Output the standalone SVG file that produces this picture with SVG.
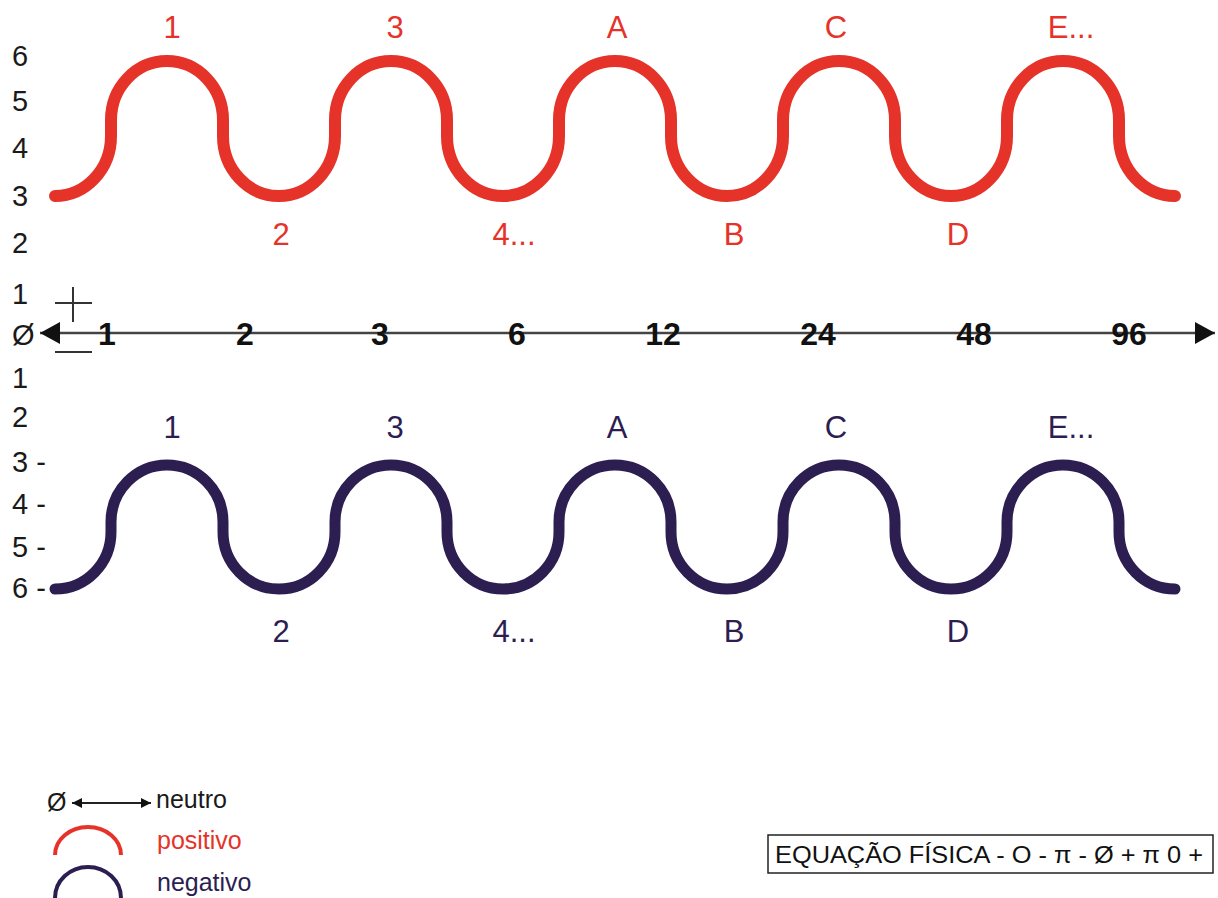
<svg xmlns="http://www.w3.org/2000/svg" width="1218" height="898" viewBox="0 0 1218 898">
<defs>
<style>
.bg{fill:#ffffff}
.num{font-family:"Liberation Sans",Arial,sans-serif;font-size:29px;fill:#1a1a1a}
.ax{font-family:"Liberation Sans",Arial,sans-serif;font-size:32px;font-weight:bold;fill:#111;text-anchor:middle}
.rl{font-family:"Liberation Sans",Arial,sans-serif;font-size:31px;fill:#e63329;text-anchor:middle}
.bl{font-family:"Liberation Sans",Arial,sans-serif;font-size:31px;fill:#2d1e52;text-anchor:middle}
.wr{fill:none;stroke:#e63329;stroke-width:12;stroke-linecap:round;stroke-linejoin:round}
.wb{fill:none;stroke:#2d1e52;stroke-width:11;stroke-linecap:round;stroke-linejoin:round}
.leg{font-family:"Liberation Sans",Arial,sans-serif;font-size:25px}
.thin{stroke:#333;stroke-width:2;fill:none}
</style>
<marker id="ah" viewBox="0 0 10 10" refX="10" refY="5" markerWidth="10" markerHeight="10" markerUnits="userSpaceOnUse" orient="auto-start-reverse">
<path d="M0 0 L10 5 L0 10 Z" fill="#111"/>
</marker>
<marker id="ahBig" viewBox="0 0 20 22" refX="20" refY="11" markerWidth="21" markerHeight="22" markerUnits="userSpaceOnUse" orient="auto-start-reverse">
<path d="M0 0 L20 11 L0 22 Z" fill="#111"/>
</marker>
</defs>
<rect class="bg" x="0" y="0" width="1218" height="898"/>

<g id="scale-left">
<text class="num" x="12" y="66">6</text>
<text class="num" x="12" y="111">5</text>
<text class="num" x="12" y="158">4</text>
<text class="num" x="12" y="206">3</text>
<text class="num" x="12" y="253">2</text>
<text class="num" x="12" y="304">1</text>
<text class="num" x="12" y="345">Ø</text>
<text class="num" x="12" y="388">1</text>
<text class="num" x="12" y="427">2</text>
<text class="num" x="12" y="472">3 -</text>
<text class="num" x="12" y="514">4 -</text>
<text class="num" x="12" y="557">5 -</text>
<text class="num" x="12" y="598">6 -</text>
</g>

<g id="connectors">
<line x1="40" y1="333" x2="1215" y2="333" stroke="#444" stroke-width="2.5" marker-start="url(#ahBig)" marker-end="url(#ahBig)"/>
</g>

<g id="signs">
<line class="thin" x1="55" y1="303" x2="92" y2="303"/>
<line class="thin" x1="73" y1="287" x2="73" y2="322"/>
<line class="thin" x1="55" y1="352" x2="92" y2="352"/>
</g>

<g id="axis-numbers">
<text class="ax" x="107" y="345">1</text>
<text class="ax" x="245" y="345">2</text>
<text class="ax" x="380" y="345">3</text>
<text class="ax" x="517" y="345">6</text>
<text class="ax" x="663" y="345">12</text>
<text class="ax" x="818" y="345">24</text>
<text class="ax" x="974" y="345">48</text>
<text class="ax" x="1129" y="345">96</text>
</g>

<g id="wave-positive">
<path class="wr" d="M55 196 A56 60 0 0 0 111 136 L111 120 A56 59 0 0 1 223 120 L223 136 A56 60 0 0 0 335 136 L335 120 A56 59 0 0 1 447 120 L447 136 A56 60 0 0 0 559 136 L559 120 A56 59 0 0 1 671 120 L671 136 A56 60 0 0 0 783 136 L783 120 A56 59 0 0 1 895 120 L895 136 A56 60 0 0 0 1007 136 L1007 120 A56 59 0 0 1 1119 120 L1119 136 A56 60 0 0 0 1175 196"/>
<text class="rl" x="172" y="38">1</text>
<text class="rl" x="395" y="38">3</text>
<text class="rl" x="617" y="38">A</text>
<text class="rl" x="836" y="38">C</text>
<text class="rl" x="1071" y="38">E...</text>
<text class="rl" x="281" y="245">2</text>
<text class="rl" x="514" y="245">4...</text>
<text class="rl" x="734" y="245">B</text>
<text class="rl" x="958" y="245">D</text>
</g>

<g id="wave-negative">
<path class="wb" d="M55 589 A56 57 0 0 0 111 532 L111 522 A56 57 0 0 1 223 522 L223 532 A56 57 0 0 0 335 532 L335 522 A56 57 0 0 1 447 522 L447 532 A56 57 0 0 0 559 532 L559 522 A56 57 0 0 1 671 522 L671 532 A56 57 0 0 0 783 532 L783 522 A56 57 0 0 1 895 522 L895 532 A56 57 0 0 0 1007 532 L1007 522 A56 57 0 0 1 1119 522 L1119 532 A56 57 0 0 0 1175 589"/>
<text class="bl" x="172" y="438">1</text>
<text class="bl" x="395" y="438">3</text>
<text class="bl" x="617" y="438">A</text>
<text class="bl" x="836" y="438">C</text>
<text class="bl" x="1071" y="438">E...</text>
<text class="bl" x="281" y="642">2</text>
<text class="bl" x="514" y="642">4...</text>
<text class="bl" x="734" y="642">B</text>
<text class="bl" x="958" y="642">D</text>
</g>

<g id="legend">
<text class="leg" x="47" y="811" fill="#1a1a1a">Ø</text>
<line x1="72" y1="803" x2="151" y2="803" stroke="#222" stroke-width="2" marker-start="url(#ah)" marker-end="url(#ah)"/>
<text class="leg" x="156" y="808" fill="#1a1a1a">neutro</text>
<path d="M55 855 A33 28 0 0 1 121 855" fill="none" stroke="#e63329" stroke-width="4"/>
<text class="leg" x="157" y="849" fill="#e63329">positivo</text>
<path d="M55 898 A33 31 0 0 1 121 898" fill="none" stroke="#2d1e52" stroke-width="4"/>
<text class="leg" x="157" y="891" fill="#2d1e52">negativo</text>
</g>

<g id="equation">
<rect x="768" y="835" width="445" height="38" fill="#fff" stroke="#222" stroke-width="1.5"/>
<text x="775" y="863" font-family="Liberation Sans, Arial, sans-serif" font-size="24" fill="#111" textLength="428" lengthAdjust="spacingAndGlyphs">EQUAÇÃO FÍSICA - O - π - Ø + π 0 +</text>
</g>
</svg>
